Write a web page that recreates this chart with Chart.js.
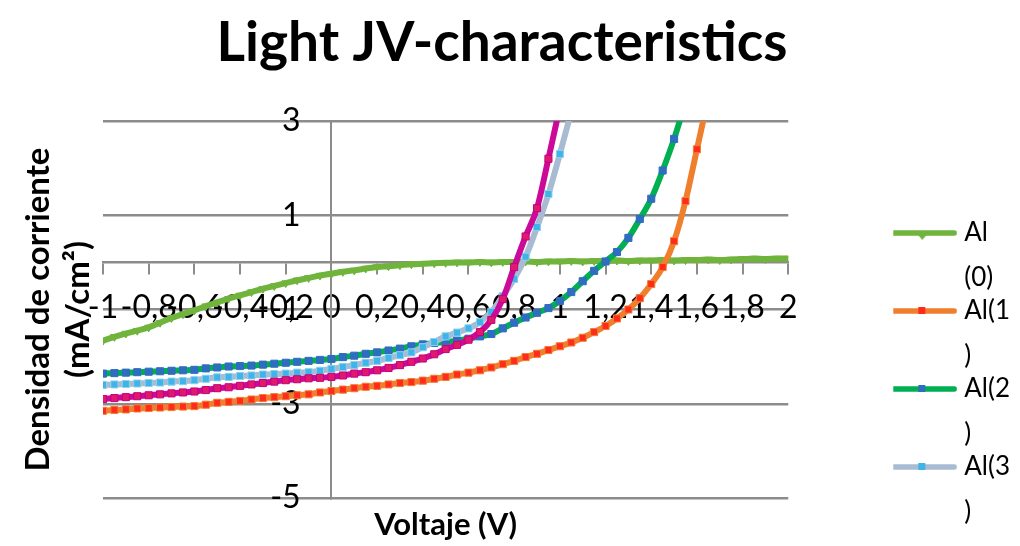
<!DOCTYPE html>
<html lang="es">
<head>
<meta charset="UTF-8">
<title>Light JV-characteristics</title>
<script src="https://cdn.jsdelivr.net/npm/chart.js@4.4.1/dist/chart.umd.min.js"></script>
<style>
  html, body { margin: 0; padding: 0; background: #ffffff; }
  #wrap { width: 1020px; height: 546px; }
</style>
</head>
<body>
<div id="wrap"><canvas id="jv"></canvas></div>
<script>
// Voltaje (V), paso de 0,05 V
const voltaje = [-1, -0.95, -0.9, -0.85, -0.8, -0.75, -0.7, -0.65, -0.6, -0.55,
  -0.5, -0.45, -0.4, -0.35, -0.3, -0.25, -0.2, -0.15, -0.1, -0.05,
  0, 0.05, 0.1, 0.15, 0.2, 0.25, 0.3, 0.35, 0.4, 0.45,
  0.5, 0.55, 0.6, 0.65, 0.7, 0.75, 0.8, 0.85, 0.9, 0.95,
  1, 1.05, 1.1, 1.15, 1.2, 1.25, 1.3, 1.35, 1.4, 1.45,
  1.5, 1.55, 1.6, 1.65, 1.7, 1.75, 1.8, 1.85, 1.9, 1.95, 2];

// Densidad de corriente (mA/cm2)
const al0 = [-1.66, -1.58, -1.51, -1.45, -1.38, -1.28, -1.18, -1.10, -1.02, -0.93,
  -0.85, -0.77, -0.70, -0.63, -0.56, -0.50, -0.44, -0.38, -0.33, -0.28,
  -0.24, -0.20, -0.17, -0.13, -0.10, -0.08, -0.06, -0.04, -0.03, -0.02,
  -0.01, 0.00, 0.00, 0.01, 0.00, 0.01, 0.01, 0.02, 0.01, 0.02,
  0.02, 0.03, 0.02, 0.03, 0.03, 0.04, 0.03, 0.04, 0.04, 0.05,
  0.04, 0.05, 0.05, 0.06, 0.05, 0.06, 0.07, 0.08, 0.07, 0.08, 0.08];
const al1 = [-3.15, -3.13, -3.12, -3.10, -3.09, -3.08, -3.07, -3.06, -3.05, -3.02,
  -2.98, -2.96, -2.94, -2.91, -2.88, -2.86, -2.84, -2.82, -2.80, -2.76,
  -2.73, -2.70, -2.67, -2.64, -2.62, -2.59, -2.56, -2.54, -2.51, -2.47,
  -2.43, -2.38, -2.34, -2.29, -2.23, -2.16, -2.09, -2.01, -1.94, -1.86,
  -1.78, -1.70, -1.60, -1.48, -1.35, -1.19, -1.00, -0.76, -0.46, -0.10,
  0.45, 1.30, 2.40, 3.50];
const al2 = [-2.36, -2.35, -2.34, -2.33, -2.32, -2.31, -2.30, -2.29, -2.28, -2.25,
  -2.23, -2.21, -2.20, -2.19, -2.17, -2.15, -2.13, -2.11, -2.09, -2.07,
  -2.05, -2.01, -1.98, -1.94, -1.91, -1.87, -1.83, -1.78, -1.74, -1.71,
  -1.69, -1.66, -1.62, -1.57, -1.52, -1.40, -1.28, -1.17, -1.07, -0.97,
  -0.82, -0.63, -0.40, -0.18, 0.02, 0.22, 0.52, 0.92, 1.35, 1.95,
  2.62, 3.40];
const al3 = [-2.60, -2.59, -2.58, -2.57, -2.56, -2.55, -2.53, -2.52, -2.50, -2.47,
  -2.44, -2.43, -2.41, -2.40, -2.38, -2.37, -2.36, -2.34, -2.33, -2.30,
  -2.26, -2.22, -2.18, -2.13, -2.09, -2.03, -1.97, -1.91, -1.80, -1.69,
  -1.57, -1.49, -1.40, -1.27, -1.05, -0.72, -0.35, 0.12, 0.75, 1.45,
  2.30, 3.20];
const al4 = [-2.90, -2.88, -2.86, -2.84, -2.82, -2.80, -2.78, -2.76, -2.74, -2.71,
  -2.67, -2.65, -2.62, -2.59, -2.56, -2.53, -2.50, -2.48, -2.46, -2.45,
  -2.43, -2.40, -2.36, -2.33, -2.29, -2.24, -2.18, -2.11, -2.04, -1.95,
  -1.84, -1.75, -1.64, -1.48, -1.22, -0.78, -0.10, 0.55, 1.15, 2.20,
  3.30];

const nombres = ['Al (0)', 'Al(1)', 'Al(2)', 'Al(3)', 'Al(4)'];
const ticksX = [-1, -0.8, -0.6, -0.4, -0.2, 0, 0.2, 0.4, 0.6, 0.8, 1, 1.2, 1.4, 1.6, 1.8, 2];
const ticksY = [-5, -3, -1, 1, 3];

const FONT = "Lato, 'Open Sans', sans-serif";
const GRID = '#8c8c8c';

const estilos = [
  { line: '#70b43c', fill: '#70b43c', edge: '#70b43c', style: 'triangle' },
  { line: '#f07f2d', fill: '#ff2b1c', edge: '#f07f2d', style: 'rect' },
  { line: '#00b050', fill: '#2f6dc0', edge: '#2f6dc0', style: 'rect' },
  { line: '#a8bbd3', fill: '#3fb4e6', edge: '#8fd0ef', style: 'rect' },
  { line: '#cc0a99', fill: '#e0186e', edge: '#c4007f', style: 'rect' }
];

function fmt(v) {
  return String(Math.round(v * 10) / 10).replace('.', ',');
}

// legend label wraps like the narrow Excel legend
function partir(txt) {
  if (txt.indexOf(' ') >= 0) return txt.split(' ');
  return [txt.slice(0, 4), txt.slice(4)];
}

// small line + marker sample for the legend
function muestra(e) {
  const c = document.createElement('canvas');
  c.width = 82; c.height = 16;
  const g = c.getContext('2d');
  g.strokeStyle = e.line; g.lineWidth = 5.5; g.lineCap = 'round';
  g.beginPath(); g.moveTo(13, 8); g.lineTo(79, 8); g.stroke();
  g.fillStyle = e.fill;
  if (e.style === 'triangle') {
    g.beginPath(); g.moveTo(42, 9); g.lineTo(52, 9); g.lineTo(47, 15); g.closePath(); g.fill();
  } else {
    g.fillRect(43, 4, 7, 7);
  }
  return c;
}
const muestras = estilos.map(muestra);

const series = [al0, al1, al2, al3, al4];
const datasets = series.map((arr, i) => ({
  label: nombres[i],
  data: arr.map((y, k) => ({ x: voltaje[k], y: y })),
  showLine: true,
  borderColor: estilos[i].line,
  backgroundColor: estilos[i].line,
  borderWidth: 6,
  cubicInterpolationMode: 'monotone',
  pointStyle: estilos[i].style,
  pointRotation: estilos[i].style === 'triangle' ? 180 : 0,
  pointRadius: estilos[i].style === 'triangle' ? 4.5 : 5,
  pointBackgroundColor: estilos[i].fill,
  pointBorderColor: estilos[i].edge,
  pointBorderWidth: 1,
  order: 4 - i
}));

new Chart(document.getElementById('jv'), {
  type: 'scatter',
  data: { datasets: datasets },
  options: {
    responsive: true,
    maintainAspectRatio: false,
    animation: false,
    layout: { padding: { left: -16, right: 0, top: 0, bottom: 0 } },
    plugins: {
      title: {
        display: true,
        text: 'Light JV-characteristics',
        color: '#000',
        font: { family: FONT, size: 55, weight: 'bold', lineHeight: 1.2 },
        padding: { top: 10, bottom: 45 }
      },
      legend: {
        position: 'right',
        align: 'start',
        maxWidth: 300,
        title: { display: true, text: '', font: { size: 12, lineHeight: 1.2 }, padding: { top: 217.6, bottom: 0 } },
        labels: {
          usePointStyle: true,
          pointStyleWidth: 70,
          padding: -12,
          color: '#000',
          font: { family: FONT, size: 26, lineHeight: '45px' },
          generateLabels: ch => ch.data.datasets.slice(0, 4).map((ds, i) => ({
            text: partir(ds.label),
            pointStyle: muestras[i],
            fillStyle: ds.borderColor,
            strokeStyle: ds.borderColor,
            lineWidth: 0,
            hidden: false,
            datasetIndex: i,
            fontColor: '#000'
          }))
        }
      },
      tooltip: { enabled: false }
    },
    scales: {
      x: {
        type: 'linear',
        position: { y: 0 },
        min: -1, max: 2,
        afterBuildTicks: s => { s.ticks = ticksX.map(v => ({ value: v })); },
        ticks: {
          autoSkip: false, maxRotation: 0, minRotation: 0, padding: 15,
          color: '#000', font: { family: FONT, size: 32 },
          callback: v => fmt(v)
        },
        grid: { drawOnChartArea: false, drawTicks: true, tickLength: 11, color: GRID, lineWidth: 2 },
        border: { color: GRID, width: 2.5 }
      },
      y: {
        type: 'linear',
        position: { x: 0 },
        min: -5, max: 3,
        afterBuildTicks: s => { s.ticks = ticksY.map(v => ({ value: v })); },
        ticks: { display: false },
        grid: { color: GRID, lineWidth: 2.5, drawTicks: false },
        border: { color: GRID, width: 2 }
      },
      yl: {
        type: 'linear',
        position: { x: -0.135 },
        min: -5, max: 3,
        afterBuildTicks: s => { s.ticks = ticksY.map(v => ({ value: v })); },
        ticks: { color: '#000', font: { family: FONT, size: 32 }, callback: v => fmt(v) },
        grid: { display: false, drawTicks: false },
        border: { display: false }
      },
      yt: {
        type: 'linear',
        position: 'left',
        ticks: { display: false },
        grid: { display: false, drawTicks: false },
        border: { display: false },
        title: {
          display: true,
          text: ['Densidad de corriente', '(mA/cm²)'],
          color: '#000',
          font: { family: FONT, size: 33, weight: 'bold', lineHeight: '40px' },
          padding: { top: 34, bottom: 5 }
        },
        afterFit: s => { s.width = 119; }
      },
      xt: {
        type: 'linear',
        position: 'bottom',
        ticks: { display: false },
        grid: { display: false, drawTicks: false },
        border: { display: false },
        title: {
          display: true,
          text: 'Voltaje (V)',
          color: '#000',
          font: { family: FONT, size: 31, weight: 'bold', lineHeight: 1.2 },
          padding: { top: 8.4, bottom: 2.4 }
        }
      },
      yr: {
        type: 'linear',
        position: 'right',
        ticks: { display: false },
        grid: { display: false, drawTicks: false },
        border: { display: false },
        afterFit: s => { s.width = 105; }
      }
    }
  }
});
</script>
</body>
</html>
